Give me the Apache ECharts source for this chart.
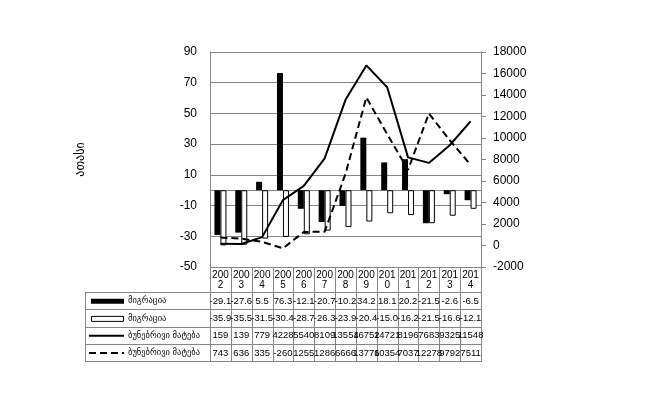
<!DOCTYPE html>
<html><head><meta charset="utf-8">
<script src="https://cdn.jsdelivr.net/npm/echarts@6/dist/echarts.min.js"></script>
<style>html,body{margin:0;padding:0;background:#fff}#c{width:655px;height:396px}</style>
</head><body><div id="c"></div>
<script>
const years = ['2002','2003','2004','2005','2006','2007','2008','2009','2010','2011','2012','2013','2014'];
const migrationA = [-29.1,-27.6,5.5,76.3,-12.1,-20.7,-10.2,34.2,18.1,20.2,-21.5,-2.6,-6.5];
const migrationB = [-35.9,-35.5,-31.5,-30.4,-28.7,-26.3,-23.9,-20.4,-15.0,-16.2,-21.5,-16.6,-12.1];
const naturalA = [159,139,779,4228,5540,8109,13554,16752,14721,8196,7683,9325,11548];
const naturalB = [743,636,335,-260,1255,1286,6666,13776,10354,7037,12278,9792,7511];
const seriesNames = ['მიგრაცია','მიგრაცია','ბუნებრივი მატება','ბუნებრივი მატება'];
const axisTitle = 'ათასი';
const leftAxis = {min:-50, max:90, step:20};
const rightAxis = {min:-2000, max:18000, step:2000};

const G = {left:210, right:481, top:52, bottom:267};
const legendLeft = 85;
const headerBottom = 292;
const tableBottom = 361;
const gridColor = '#868686';
const numFont = '"Liberation Sans", Arial, sans-serif';
const geoFont = '"DejaVu Sans", sans-serif';

const chart = echarts.init(document.getElementById('c'), null, {renderer:'canvas'});
chart.setOption({
  animation:false,
  backgroundColor:'#fff',
  grid:{left:G.left, right:655-G.right, top:G.top, bottom:396-G.bottom, containLabel:false},
  xAxis:{type:'category', data:years, boundaryGap:true,
    axisLine:{show:true, onZero:true, lineStyle:{color:gridColor, width:1}},
    axisTick:{show:false}, axisLabel:{show:false}, splitLine:{show:false}},
  yAxis:[
    {type:'value', min:leftAxis.min, max:leftAxis.max, interval:leftAxis.step,
     axisLine:{show:true, lineStyle:{color:gridColor}}, axisTick:{show:false},
     axisLabel:{fontSize:12, color:'#000', margin:13, fontFamily:numFont, formatter:v => String(v)},
     splitLine:{show:true, lineStyle:{color:gridColor, width:1}},
     name:axisTitle, nameLocation:'middle', nameGap:123, nameRotate:90,
     nameTextStyle:{fontSize:12, color:'#000', fontFamily:geoFont}},
    {type:'value', position:'right', min:rightAxis.min, max:rightAxis.max, interval:rightAxis.step,
     axisLine:{show:true, lineStyle:{color:gridColor}},
     axisTick:{show:true, inside:false, length:5, lineStyle:{color:gridColor}},
     axisLabel:{fontSize:12, color:'#000', margin:12, fontFamily:numFont, formatter:v => String(v)},
     splitLine:{show:false}}
  ],
  series:[
    {name:seriesNames[0], type:'bar', yAxisIndex:0, data:migrationA, barWidth:6, barGap:'0%',
     itemStyle:{color:'#000'}},
    {name:seriesNames[1], type:'bar', yAxisIndex:0, data:migrationB, barWidth:6, barGap:'0%',
     itemStyle:{color:'#fff', borderColor:'#000', borderWidth:1}},
    {name:seriesNames[2], type:'line', yAxisIndex:1, data:naturalA, symbol:'none', z:5,
     lineStyle:{color:'#000', width:2}},
    {name:seriesNames[3], type:'line', yAxisIndex:1, data:naturalB, symbol:'none', z:5,
     lineStyle:{color:'#000', width:2, type:[7,4]}}
  ]
});

// Data table below the plot
const n = years.length;
const centers = years.map(y => chart.convertToPixel({xAxisIndex:0}, y));
const cw = (G.right - G.left) / n;
const rowH = (tableBottom - headerBottom) / 4;
const rowYs = [0,1,2,3,4].map(k => headerBottom + k*rowH);
const els = [];
const lineStyle = {stroke:gridColor, lineWidth:1};
const crisp = v => Math.round(v) + 0.5;
for (let i = 0; i <= n; i++) {
  const x = crisp(G.left + i*cw);
  els.push({type:'line', shape:{x1:x, y1:G.bottom, x2:x, y2:tableBottom}, style:lineStyle, silent:true});
}
els.push({type:'line', shape:{x1:crisp(legendLeft), y1:headerBottom, x2:crisp(legendLeft), y2:tableBottom}, style:lineStyle, silent:true});
rowYs.forEach(y => els.push({type:'line', shape:{x1:legendLeft, y1:crisp(y), x2:G.right+1, y2:crisp(y)}, style:lineStyle, silent:true}));
// header
years.forEach((y, i) => {
  els.push({type:'text', x:centers[i], y:(G.bottom+headerBottom)/2+1, silent:true,
    style:{text:y.slice(0,3)+'\n'+y.slice(3), fontSize:10, lineHeight:10, fontFamily:numFont,
      fill:'#000', align:'center', verticalAlign:'middle'}});
});
const rows = [
  migrationA.map(v => v.toFixed(1)),
  migrationB.map(v => v.toFixed(1)),
  naturalA.map(v => String(v)),
  naturalB.map(v => String(v))
];
rows.forEach((r, k) => {
  const cy = rowYs[k] + rowH/2 + 0.5;
  r.forEach((t, i) => {
    els.push({type:'text', x:centers[i], y:cy, silent:true,
      style:{text:t, fontSize:9.5, fontFamily:numFont, fill:'#000', align:'center', verticalAlign:'middle'}});
  });
  // legend key
  const kx1 = legendLeft + 5, kx2 = legendLeft + 39;
  if (k === 0) els.push({type:'rect', shape:{x:kx1+1, y:cy-2.5, width:33, height:5}, style:{fill:'#000'}, silent:true});
  if (k === 1) els.push({type:'rect', shape:{x:kx1+1.5, y:cy-2, width:32, height:5}, style:{fill:'#fff', stroke:'#000', lineWidth:1}, silent:true});
  if (k === 2) els.push({type:'line', shape:{x1:kx1-1, y1:cy, x2:kx2, y2:cy}, style:{stroke:'#000', lineWidth:2}, silent:true});
  if (k === 3) els.push({type:'line', shape:{x1:kx1-1, y1:cy, x2:kx2, y2:cy}, style:{stroke:'#000', lineWidth:2, lineDash:[7,4]}, silent:true});
  els.push({type:'text', x:legendLeft+43, y:cy, silent:true,
    style:{text:seriesNames[k], fontSize:8.5, fontFamily:geoFont, fill:'#000', align:'left', verticalAlign:'middle'}});
});
chart.setOption({graphic:{elements:els}});
</script></body></html>
